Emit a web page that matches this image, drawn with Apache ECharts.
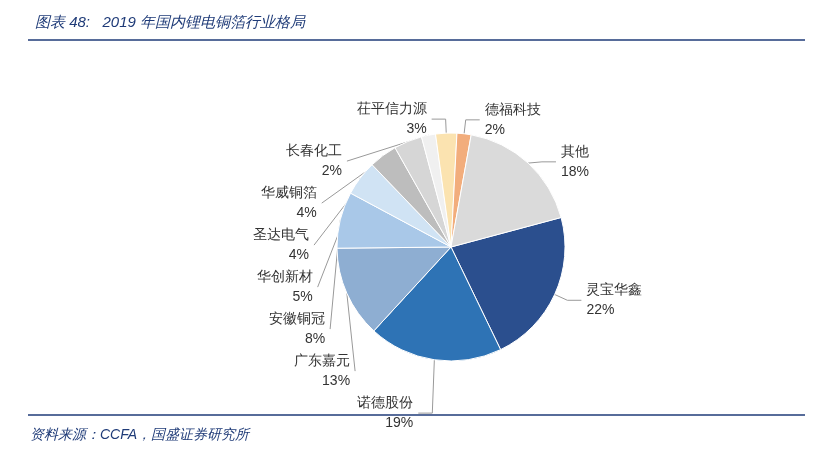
<!DOCTYPE html>
<html><head><meta charset="utf-8">
<script src="https://cdn.jsdelivr.net/npm/echarts@6/dist/echarts.min.js"></script>
<style>body{margin:0;background:#fff}#c{width:820px;height:475px}</style>
</head><body><div id="c"></div>
<script>
// 2019年国内锂电铜箔行业格局
var names = ['灵宝华鑫','诺德股份','广东嘉元','安徽铜冠','华创新材','圣达电气','华威铜箔','长春化工','茌平信力源','德福科技','其他'];
var shares = [22,19,13,8,5,4,4,2,3,2,18];
var colors = ['#2b4f8e','#2e73b5','#8eaed2','#a9c8e8','#d0e3f4','#bdbdbd','#d6d6d6','#f0f0f0','#fbe3b0','#f2ad7c','#dadada'];

var chart = echarts.init(document.getElementById('c'));
var data = [];
for (var i = 0; i < names.length; i++) {
    data.push({value: shares[i], name: names[i], itemStyle: {color: colors[i]}});
}
chart.setOption({
    animation: false,
    title: {
        text: '图表 48:   2019 年国内锂电铜箔行业格局',
        left: 30, top: 10,
        textStyle: {color: '#1f3b78', fontSize: 15, fontStyle: 'italic', fontWeight: 'normal'}
    },
    graphic: [
        {type: 'line', shape: {x1: 28, y1: 40, x2: 805, y2: 40}, style: {stroke: '#1f3b78', lineWidth: 1.5}},
        {type: 'line', shape: {x1: 28, y1: 415, x2: 805, y2: 415}, style: {stroke: '#1f3b78', lineWidth: 1.5}},
        {type: 'text', left: 30, top: 428, style: {text: '资料来源：CCFA，国盛证券研究所', fill: '#1f3b78', font: 'italic 14px sans-serif'}}
    ],
    series: [{
        type: 'pie',
        center: ['55%', '52%'],
        radius: ['0%', '48%'],
        startAngle: 15,
        data: data,
        itemStyle: {borderColor: '#fff', borderWidth: 1},
        label: {
            formatter: '{b}\n{c}%',
            fontSize: 14, color: '#333', lineHeight: 20, align: 'center'
        },
        labelLine: {length: 14, length2: 14, lineStyle: {color: '#999'}}
    }]
});
</script></body></html>
